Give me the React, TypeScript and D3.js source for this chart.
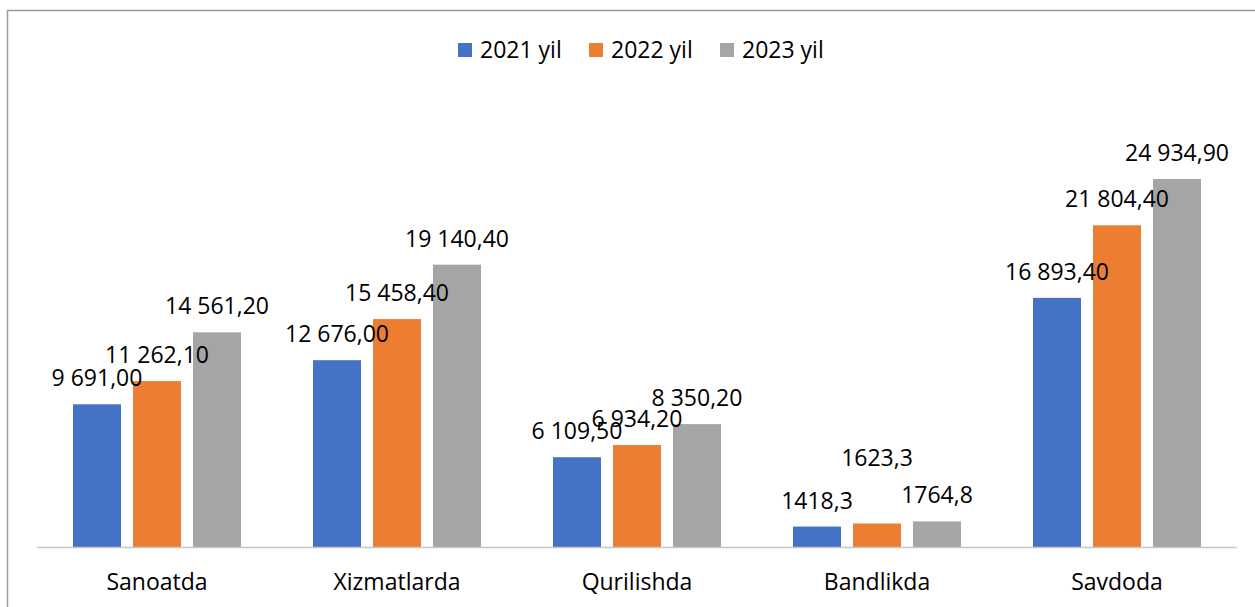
import { useMemo } from 'react'
import * as d3 from 'd3'

const CATEGORIES = ['Sanoatda', 'Xizmatlarda', 'Qurilishda', 'Bandlikda', 'Savdoda']
const SERIES = ['2021 yil', '2022 yil', '2023 yil']
const COLORS = ['#4472C4', '#ED7D31', '#A5A5A5']

const VALUES_2021 = [9691.0, 12676.0, 6109.5, 1418.3, 16893.4]
const VALUES_2022 = [11262.1, 15458.4, 6934.2, 1623.3, 21804.4]
const VALUES_2023 = [14561.2, 19140.4, 8350.2, 1764.8, 24934.9]

const LABELS_2021 = ['9 691,00', '12 676,00', '6 109,50', '1418,3', '16 893,40']
const LABELS_2022 = ['11 262,10', '15 458,40', '6 934,20', '1623,3', '21 804,40']
const LABELS_2023 = ['14 561,20', '19 140,40', '8 350,20', '1764,8', '24 934,90']

const W = 1255
const H = 607
const FONT = "'Open Sans', sans-serif"
const FS = 23

// one label was dragged up by hand in the original
const LABEL_SHIFT: Record<string, number> = { '1-3': -40 }

export default function App() {
  const values = [VALUES_2021, VALUES_2022, VALUES_2023]
  const labels = [LABELS_2021, LABELS_2022, LABELS_2023]

  const x = useMemo(() => d3.scaleBand<string>().domain(CATEGORIES).range([37, 1237]), [])
  const xs = useMemo(
    () => d3.scaleBand<string>().domain(SERIES).range([36, 204]).paddingInner(0.2),
    []
  )
  const y = useMemo(() => d3.scaleLinear().domain([0, 30000]).range([547.5, 104.2]), [])

  return (
    <div style={{ position: 'absolute', left: 0, top: 0 }}>
      <svg width={W} height={H} style={{ display: 'block', background: '#fff' }}>
        <rect x={7.5} y={10.5} width={1260} height={620} fill="#fff" stroke="#9b9b9b" strokeWidth={1.5} />

        {/* Legend */}
        {SERIES.map((s, i) => {
          const lx = 458 + i * 131
          return (
            <g key={s}>
              <rect x={lx} y={43} width={14} height={14} fill={COLORS[i]} />
              <text x={lx + 22} y={57.5} fontFamily={FONT} fontSize={FS} fill="#000">
                {s}
              </text>
            </g>
          )
        })}

        {/* Bars */}
        {SERIES.map((s, si) => (
          <g key={s}>
            {CATEGORIES.map((c, ci) => {
              const v = values[si][ci]
              const bx = (x(c) ?? 0) + (xs(s) ?? 0)
              const top = y(v)
              return (
                <rect key={c} x={bx} y={top} width={xs.bandwidth()} height={y(0) - top} fill={COLORS[si]} />
              )
            })}
          </g>
        ))}

        {/* Baseline */}
        <line x1={37} x2={1237} y1={547.5} y2={547.5} stroke="#c6c6c6" strokeWidth={1.5} />

        {/* Data labels */}
        {SERIES.map((s, si) => (
          <g key={`lbl-${s}`}>
            {CATEGORIES.map((c, ci) => {
              const bx = (x(c) ?? 0) + (xs(s) ?? 0) + xs.bandwidth() / 2
              const shift = LABEL_SHIFT[`${si}-${ci}`] ?? 0
              return (
                <text
                  key={c}
                  x={bx}
                  y={y(values[si][ci]) - 18 + shift}
                  textAnchor="middle"
                  fontFamily={FONT}
                  fontSize={FS}
                  fill="#000"
                >
                  {labels[si][ci]}
                </text>
              )
            })}
          </g>
        ))}

        {/* Category labels */}
        {CATEGORIES.map(c => (
          <text
            key={c}
            x={(x(c) ?? 0) + x.bandwidth() / 2}
            y={590}
            textAnchor="middle"
            fontFamily={FONT}
            fontSize={FS}
            fill="#000"
          >
            {c}
          </text>
        ))}
      </svg>
    </div>
  )
}
